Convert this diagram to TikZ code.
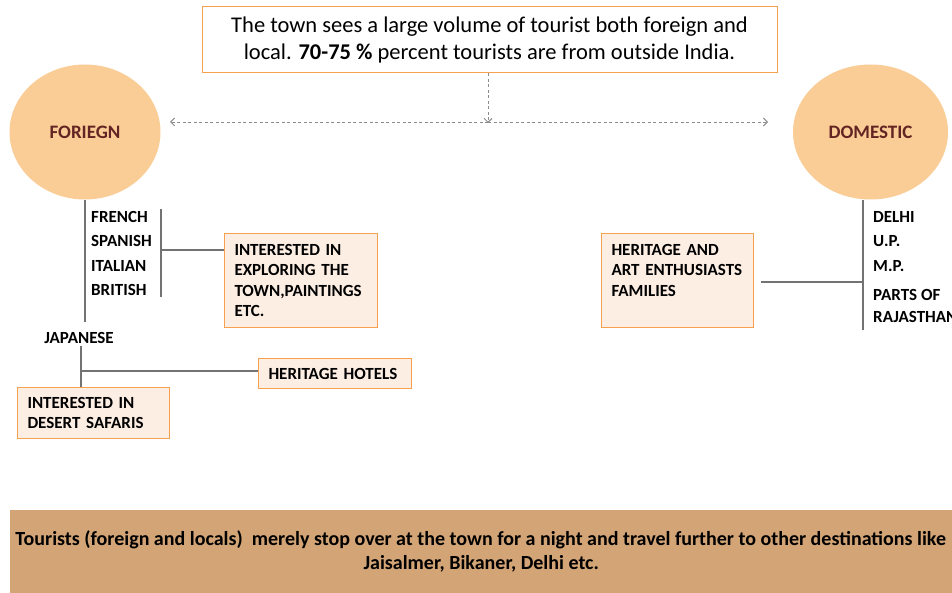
\documentclass[tikz,border=0pt]{standalone}
\usepackage{fontspec}
\setmainfont{Carlito}
\usetikzlibrary{arrows.meta,shapes.geometric}
\definecolor{circfill}{RGB}{250,205,150}
\definecolor{circtext}{RGB}{99,37,35}
\definecolor{boxborder}{RGB}{247,160,80}
\definecolor{boxfill}{RGB}{253,238,228}
\definecolor{bandfill}{RGB}{210,164,118}
\definecolor{dashgray}{RGB}{140,140,140}
\definecolor{treegray}{RGB}{115,115,115}
\begin{document}
\begin{tikzpicture}[x=1pt,y=-1pt,
  circ/.style={ellipse, fill=circfill, minimum width=151pt, minimum height=135pt, inner sep=0pt,
    font=\fontsize{19}{22}\selectfont\bfseries, text=circtext},
  darrow/.style={draw=dashgray, dashed, line width=0.9pt, dash pattern=on 3pt off 2.5pt,
    -{Straight Barb[length=4pt,width=8pt]}},
  tline/.style={draw=treegray, line width=1.5pt},
  lbl/.style={anchor=west, inner sep=0pt, font=\fontsize{17}{20.5}\selectfont\bfseries},
  cbox/.style={draw=boxborder, fill=boxfill, line width=1pt, anchor=north west, align=left,
    inner xsep=10pt, inner ysep=0pt, font=\fontsize{17}{20.5}\selectfont\bfseries}
]
\useasboundingbox (0,0) rectangle (952,593);
\clip (0,0) rectangle (952,593);

% top statement
\node[draw=boxborder, line width=1pt, fill=white, minimum width=575pt, minimum height=66pt,
  inner sep=0pt, align=center, font=\fontsize{22.5}{27}\selectfont] (top) at (489.5,40)
  {The town sees a large volume of tourist both foreign and\\
   local. \textbf{70-75 \%} percent tourists are from outside India.};

% circles
\node[circ] (foreign) at (85,132) {FORIEGN};
\node[circ, minimum width=155pt] (domestic) at (870.5,132) {DOMESTIC};

% dashed arrows
\coordinate (aL) at (170,122);
\coordinate (aR) at (768,122);
\coordinate (aM) at (488,122);
\draw[darrow] (aM) -- (aL);
\draw[darrow] (aM) -- (aR);
\draw[darrow] (top.south -| aM) -- ([yshift=-1pt]aM);

% left tree: European tourists
\coordinate (fb) at (85,322);
\draw[tline] (foreign.south) -- (fb);
\node[lbl] (french) at (91,217) {FRENCH};
\node[lbl] (spanish) at (91,241) {SPANISH};
\node[lbl] (italian) at (91,266) {ITALIAN};
\node[lbl] (british) at (91,290) {BRITISH};
\coordinate (bt) at (161,209);
\coordinate (bb) at (161,297);
\coordinate (bm) at (161,250);
\draw[tline] (bt) -- (bb);
\node[cbox, text width=133pt, minimum height=94pt] (explore) at (224,233)
  {INTERESTED IN\\EXPLORING THE\\TOWN,PAINTINGS\\ETC.};
\draw[tline] (bm) -- (bm -| explore.west);

% Japanese
\node[lbl, anchor=center] (japanese) at (79,338) {JAPANESE};
\node[cbox, text width=132pt, minimum height=51pt] (desert) at (17,387)
  {INTERESTED IN\\DESERT SAFARIS};
\node[cbox, text width=133pt, minimum height=30pt] (hotels) at (258,358)
  {HERITAGE HOTELS};
\coordinate (jt) at (81,346);
\coordinate (jm) at (81,371);
\draw[tline] (jt) -- (jt |- desert.north);
\draw[tline] (jm) -- (jm -| hotels.west);

% right tree: domestic
\coordinate (dtop) at (863,200);
\coordinate (dbot) at (863,330);
\draw[tline] (dtop) -- (dbot);
\node[lbl] (delhi) at (873,217) {DELHI};
\node[lbl] (up) at (873,241) {U.P.};
\node[lbl] (mp) at (873,266) {M.P.};
\node[lbl, align=left, anchor=north west, font=\fontsize{17}{22}\selectfont\bfseries] (raj) at (873,289) {PARTS OF\\RAJASTHAN};
\node[cbox, text width=132pt, minimum height=94pt, inner ysep=6pt] (heritage) at (601,233)
  {HERITAGE AND\\ART ENTHUSIASTS\\FAMILIES\\\mbox{}};
\coordinate (dm) at (863,282);
\draw[tline] (dm) -- ([xshift=7pt]dm -| heritage.east);

% bottom band
\node[fill=bandfill, minimum width=942pt, minimum height=83pt, inner sep=0pt, anchor=north west,
  align=center, font=\fontsize{20}{24}\selectfont\bfseries] (band) at (10,510)
  {\hspace*{-1pt}Tourists (foreign and locals) \ merely stop over at the town for a night and travel further to other destinations like\\
   Jaisalmer, Bikaner, Delhi etc.};
\end{tikzpicture}
\end{document}
